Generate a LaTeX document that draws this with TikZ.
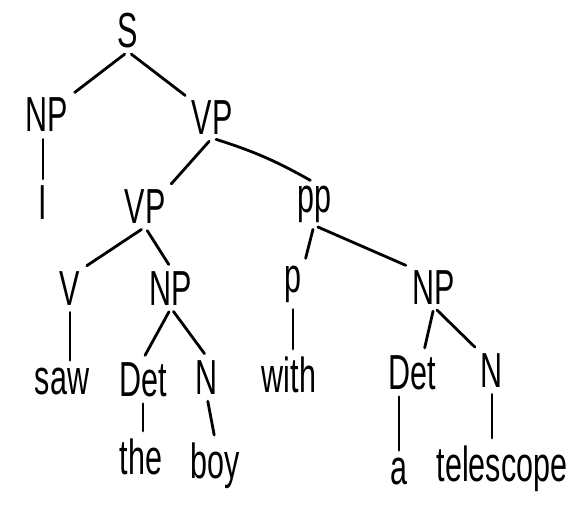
\documentclass[tikz,border=0pt]{standalone}
\usepackage{fontspec}
\setmainfont{Liberation Sans}
\usepackage{graphicx}

\newcommand{\hw}[1]{\scalebox{0.62}[1]{#1}}

\tikzset{
  word/.style={anchor=base, inner sep=2pt, font=\fontsize{35}{38}\selectfont},
  branch/.style={line width=2pt, line cap=round, shorten <=3pt, shorten >=3pt}
}

\begin{document}
\begin{tikzpicture}[x=0.025cm, y=-0.025cm]
\useasboundingbox (0,0) rectangle (584,524);

% Phrase labels
\node[word] (s)   at (128,48)  {\hw{S}};
\node[word] (np1) at (47,132)  {\hw{NP}};
\node[word] (vp1) at (212,135) {\hw{VP}};
\node[word] (vp2) at (145,224) {\hw{VP}};
\node[word] (pp)  at (314,212) {\hw{pp}};
\node[word] (v)   at (70,305)  {\hw{V}};
\node[word] (np2) at (171,305) {\hw{NP}};
\node[word] (p)   at (293,292) {\hw{p}};
\node[word] (np3) at (434,304) {\hw{NP}};
\node[word] (det1) at (143,396) {\hw{Det}};
\node[word] (n1)   at (207,394) {\hw{N}};
\node[word] (det2) at (412,389) {\hw{Det}};
\node[word] (n2)   at (492,387) {\hw{N}};

% Words
\node[word] (i)    at (43,220)  {\hw{I}};
\node[word] (saw)  at (62,394)  {\hw{saw}};
\node[word] (with) at (289,392) {\hw{with}};
\node[word] (the)  at (141,474) {\hw{the}};
\node[word] (boy)  at (215,478) {\hw{boy}};
\node[word] (a)    at (399,484) {\hw{a}};
\node[word] (tel)  at (502,481) {\hw{telescope}};

% Branches
\draw[branch] (s.south) -- (np1.north east);
\draw[branch] (s.south) -- (vp1.north west);
\draw[branch] (np1.south -| i.north) -- (i.north);
\draw[branch] (vp1.south) -- (vp2.north east);
\draw[branch] (vp1.south) to[bend left=6] (pp.north);
\draw[branch] (vp2.south) -- (v.north east);
\draw[branch] (vp2.south) -- (np2.north);
\draw[branch] (pp.south) -- (p.north east);
\draw[branch] (pp.south) -- (np3.north west);
\draw[branch] (np2.south) -- (det1.north);
\draw[branch] (np2.south) -- (n1.north);
\draw[branch] (np3.south) -- (det2.60);
\draw[branch] (np3.south) -- (n2.north west);

% Leaves
\draw[branch] (v.south) -- (v.south |- saw.north);
\draw[branch] (p.south) -- (p.south |- with.north);
\draw[branch] (det1.south) -- (det1.south |- the.north);
\draw[branch] (n1.south) -- (boy.north);
\draw[branch] (a.north |- det2.south) -- (a.north);
\draw[branch] (n2.south) -- (n2.south |- tel.north);
\end{tikzpicture}
\end{document}
